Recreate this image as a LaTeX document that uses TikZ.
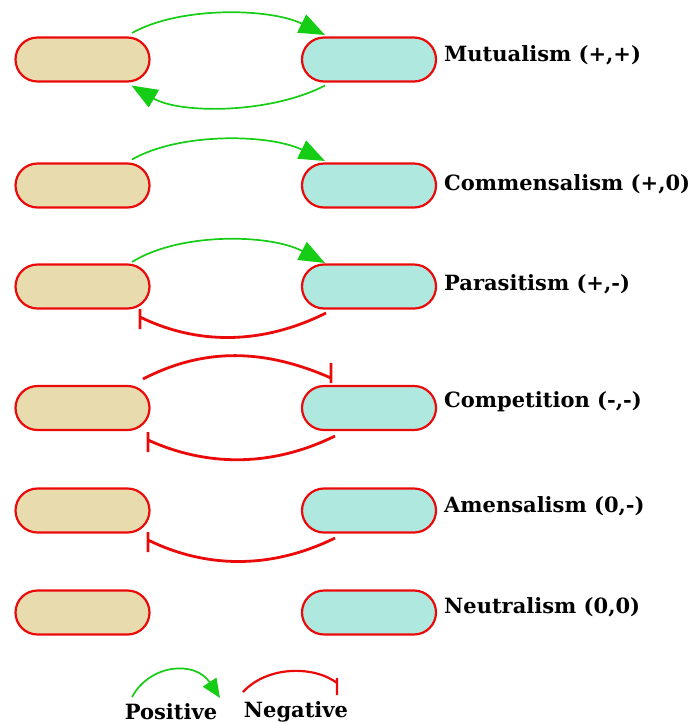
\documentclass[tikz,border=0pt]{standalone}
\usepackage{fontspec}
\setmainfont{DejaVu Serif}
\usetikzlibrary{arrows.meta,calc}
\definecolor{tan}{RGB}{232,219,174}
\definecolor{aqua}{RGB}{175,232,222}
\definecolor{posgreen}{RGB}{20,205,20}
\definecolor{negred}{RGB}{235,10,10}
\tikzset{
  orgbox/.style={draw=negred, line width=2.2pt, rounded corners=22pt, minimum width=134pt, minimum height=44pt, inner sep=0pt},
  leftbox/.style={orgbox, fill=tan},
  rightbox/.style={orgbox, fill=aqua},
  lbl/.style={anchor=west, inner sep=0pt, font=\bfseries\fontsize{21}{24}\selectfont},
  legendtext/.style={inner sep=0pt, font=\bfseries\fontsize{21}{24}\selectfont},
  posarrow/.style={draw=posgreen, line width=1.7pt, -{Triangle[length=26pt,width=20pt]}},
  negline/.style={draw=negred, line width=2.8pt},
}
\begin{document}
\begin{tikzpicture}[x=1pt,y=-1pt]
\useasboundingbox (0,0) rectangle (697,724);
% rows
\foreach \i/\y in {1/59.5,2/185.5,3/286.5,4/408,5/510.5,6/612.5}{
  \node[leftbox] (L\i) at (82.5,\y) {};
  \node[rightbox] (R\i) at (369,\y) {};
}
\node[lbl] (T1) at (444,55) {Mutualism (+,+)};
\node[lbl] (T2) at (444,184) {Commensalism (+,0)};
\node[lbl] (T3) at (444,284) {Parasitism (+,-)};
\node[lbl] (T4) at (444,402) {Competition (-,-)};
\node[lbl] (T5) at (444,506) {Amensalism (0,-)};
\node[lbl] (T6) at (444,607) {Neutralism (0,0)};
% row 1
\draw[posarrow] ($(L1)+(49.5,-26.5)$) .. controls (180,6) and (270,8) .. ($(R1)+(-44,-24.5)$);
\draw[posarrow] ($(R1)+(-44,26)$) .. controls (270,114) and (180,114) .. ($(L1)+(49,26)$);
% row 2
\draw[posarrow] ($(L2)+(49.5,-26)$) .. controls (180,132) and (270,134) .. ($(R2)+(-44,-24.5)$);
% row 3
\draw[posarrow] ($(L3)+(49.5,-24.5)$) .. controls (180,232) and (270,234) .. ($(R3)+(-44,-23.5)$);
\draw[negline] ($(R3)+(-43,26.5)$) .. controls (260,346) and (195,344) .. ($(L3)+(57.5,30.5)$) ++(0,-8) -- ++(0,20);
% row 4
\draw[negline] ($(L4)+(60.5,-29)$) .. controls (205,347) and (265,349) .. ($(R4)+(-38,-30)$) ++(0,-15) -- ++(0,20);
\draw[negline] ($(R4)+(-34,28)$) .. controls (270,468) and (205,466) .. ($(L4)+(65.5,32)$) ++(0,-8) -- ++(0,20);
% row 5
\draw[negline] ($(R5)+(-34,27.5)$) .. controls (270,570) and (205,568) .. ($(L5)+(65.5,29.5)$) ++(0,-8) -- ++(0,20);
% legend
\node[legendtext] (P) at (171,712) {Positive};
\node[legendtext] (N) at (296,712) {Negative};
\coordinate (pa) at (132,697);
\coordinate (pb) at (220,698);
\coordinate (na) at (243,692);
\coordinate (nb) at (337,683);
\draw[posarrow, -{Triangle[length=19pt,width=16pt]}] (pa) .. controls (150,664) and (195,660) .. (pb);
\draw[negline, line width=2.2pt] (na) .. controls (268,665) and (315,666) .. (nb) ++(0,-5) -- ++(0,17);
\end{tikzpicture}
\end{document}
